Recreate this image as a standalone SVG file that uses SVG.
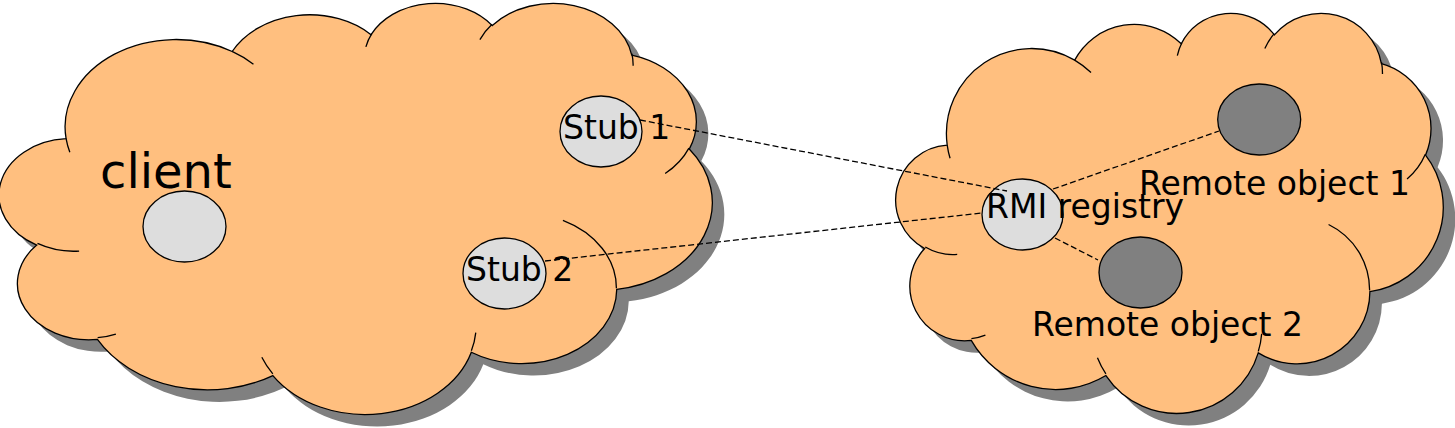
<svg xmlns="http://www.w3.org/2000/svg" xmlns:xlink="http://www.w3.org/1999/xlink" width="1455" height="428" viewBox="0 0 1455 428">
<style>
.cloud{fill:#ffbf7f;stroke:#000;stroke-width:1.3}
.shadow{fill:#808080;stroke:none}
.inner{fill:none;stroke:#000;stroke-width:1.3}
.light{fill:#dddddd;stroke:#000;stroke-width:1.3}
.dark{fill:#808080;stroke:#000;stroke-width:1.3}
.lbl{font-family:"DejaVu Sans","Liberation Sans",sans-serif;font-size:33px;fill:#000}
.conn{fill:none;stroke:#000;stroke-width:1.3;stroke-dasharray:6 3}
</style>
<defs>
<path id="cloudShape" vector-effect="non-scaling-stroke" d="M3900 14370 A6753 9190 0 0 1 14005 5202 A5333 7267 0 0 1 22456 3431 A4365 5945 0 0 1 29832 2479 A4857 6595 0 0 1 38318 5574 A5333 7273 0 0 1 41818 15458 A6775 9220 0 0 1 37405 30202 A5785 7867 0 0 1 28556 36812 A6752 9215 0 0 1 16481 39265 A7720 10543 0 0 1 5806 35472 A4360 5918 0 0 1 2114 25550 A4345 5945 0 0 1 3900 14370 Z"/>
<path id="cloudInner" vector-effect="non-scaling-stroke" d="M4693 26177 A4345 5945 0 0 1 2160 25380 M6928 34899 A4360 5918 0 0 1 5820 35281 M16478 39090 A6752 9215 0 0 1 15809 37348 M28827 34751 A6752 9215 0 0 1 28560 36660 M34129 22954 A5785 7867 0 0 1 37381 30090 M41798 15354 A5333 7273 0 0 1 40350 18030 M38324 5426 A4857 6595 0 0 1 38401 6690 M29078 3952 A4857 6595 0 0 1 29820 2341 M22141 4720 A4365 5945 0 0 1 22500 3330 M14000 5192 A6753 9190 0 0 1 15300 6540 M4127 15789 A6753 9190 0 0 1 3900 14370"/>
</defs>

<g id="client-cloud">
<use xlink:href="#cloudShape" href="#cloudShape" class="shadow" transform="translate(14,14) scale(0.016435,0.0095139)"/>
<use xlink:href="#cloudShape" href="#cloudShape" class="cloud" transform="translate(2,2) scale(0.016435,0.0095139)"/>
<use xlink:href="#cloudInner" href="#cloudInner" class="inner" transform="translate(2,2) scale(0.016435,0.0095139)"/>
<text class="lbl" x="100" y="188" style="font-size:48px">client</text>
</g>

<g id="server-cloud">
<use xlink:href="#cloudShape" href="#cloudShape" class="shadow" transform="translate(910,24) scale(0.012616,0.009259)"/>
<use xlink:href="#cloudShape" href="#cloudShape" class="cloud" transform="translate(898,12) scale(0.012616,0.009259)"/>
<use xlink:href="#cloudInner" href="#cloudInner" class="inner" transform="translate(898,12) scale(0.012616,0.009259)"/>
</g>

<g id="client-object">
<ellipse class="light" cx="184.5" cy="226.5" rx="41.5" ry="35.5"/>
</g>

<g id="stub1">
<ellipse class="light" cx="601" cy="131.5" rx="41" ry="35.5"/>
</g>

<g id="stub2">
<ellipse class="light" cx="504.5" cy="273.5" rx="41.5" ry="35.5"/>
</g>

<g id="rmi-registry">
<ellipse class="light" cx="1022.5" cy="214.5" rx="40.5" ry="35.5"/>
</g>

<g id="remote-object1">
<ellipse class="dark" cx="1259.2" cy="119.5" rx="41.5" ry="35.5"/>
</g>

<g id="remote-object2">
<ellipse class="dark" cx="1140.5" cy="272.5" rx="41.5" ry="35.5"/>
</g>

<g id="connectors">
<line class="conn" x1="640" y1="120" x2="1007" y2="191"/>
<line class="conn" x1="545" y1="261" x2="982" y2="213"/>
<line class="conn" x1="1053" y1="189" x2="1219" y2="131"/>
<line class="conn" x1="1055" y1="238" x2="1098" y2="260"/>
</g>

<g id="labels">
<text class="lbl" x="563" y="139">Stub 1</text>
<text class="lbl" x="466" y="281">Stub 2</text>
<text class="lbl" x="986" y="218">RMI registry</text>
<text class="lbl" x="1139" y="195">Remote object 1</text>
<text class="lbl" x="1032" y="336">Remote object 2</text>
</g>
</svg>
